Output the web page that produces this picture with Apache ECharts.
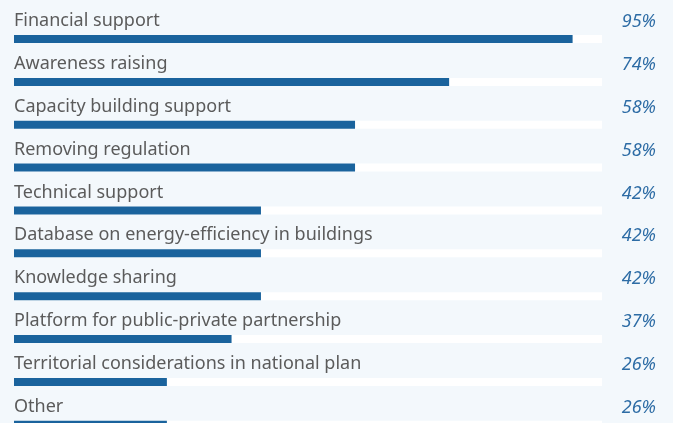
<!DOCTYPE html>
<html>
<head>
<meta charset="utf-8">
<script src="https://cdn.jsdelivr.net/npm/echarts@6/dist/echarts.min.js"></script>
<style>
  html, body { margin: 0; padding: 0; background: #f3f8fc; }
  #chart { width: 673px; height: 423px; }
</style>
</head>
<body>
<div id="chart"></div>
<script>
// Share of respondents naming each type of support
const categories = [
  'Financial support',
  'Awareness raising',
  'Capacity building support',
  'Removing regulation',
  'Technical support',
  'Database on energy-efficiency in buildings',
  'Knowledge sharing',
  'Platform for public-private partnership',
  'Territorial considerations in national plan',
  'Other'
];
const shares = [95, 74, 58, 58, 42, 42, 42, 37, 26, 26];
const fullScale = categories.map(() => 100);

const chart = echarts.init(document.getElementById('chart'), null, { renderer: 'canvas' });
chart.setOption({
  backgroundColor: '#f3f8fc',
  animation: false,
  // the last row runs past the bottom edge, so the grid is allowed to overflow
  grid: { left: 14, right: 71, top: 17.6, bottom: -23.2, containLabel: false, outerBoundsMode: 'none' },
  xAxis: { type: 'value', min: 0, max: 100, show: false },
  yAxis: { type: 'category', data: categories, inverse: true, show: false },
  series: [
    {
      // white track behind each bar, carrying the percentage at the right
      type: 'bar',
      data: fullScale,
      barWidth: 8,
      barGap: '-100%',
      silent: true,
      itemStyle: { color: '#ffffff' },
      label: {
        show: true,
        position: [642, -13],
        align: 'right',
        verticalAlign: 'middle',
        fontFamily: 'Noto Sans',
        fontStyle: 'italic',
        fontSize: 18,
        color: '#2d6ca5',
        formatter: p => shares[p.dataIndex] + '%'
      },
      z: 1
    },
    {
      type: 'bar',
      data: shares,
      barWidth: 8,
      barGap: '-100%',
      itemStyle: { color: '#1a639d' },
      label: {
        show: true,
        position: [0, -14],
        align: 'left',
        verticalAlign: 'middle',
        fontFamily: 'Noto Sans',
        fontSize: 18,
        color: '#5b5b5b',
        formatter: p => p.name
      },
      z: 2
    }
  ]
});
</script>
</body>
</html>
